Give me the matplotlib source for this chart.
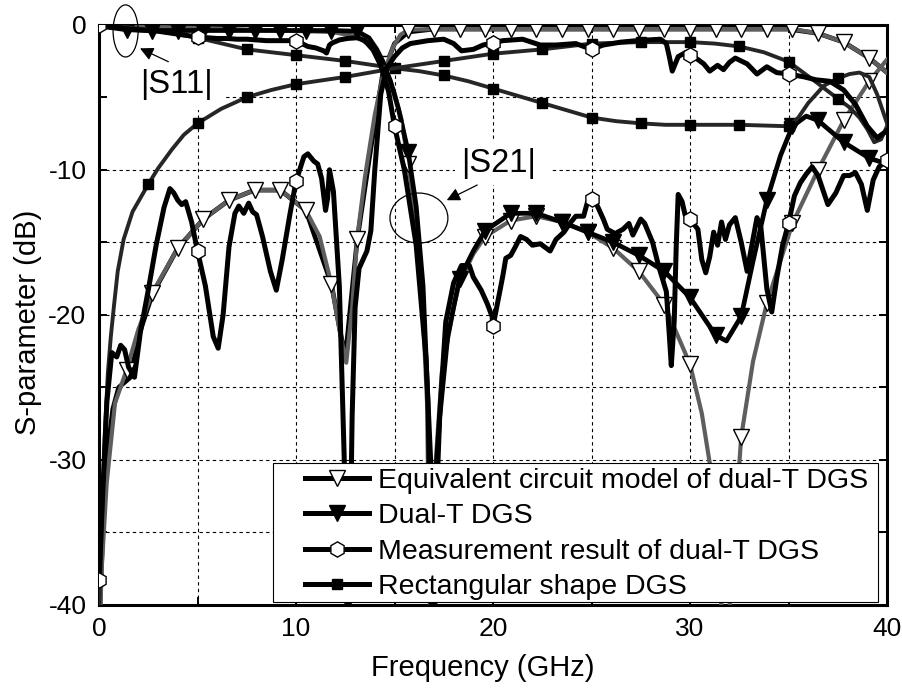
import matplotlib
matplotlib.use("Agg")
import matplotlib.pyplot as plt
from matplotlib.lines import Line2D
from matplotlib.patches import Ellipse, Rectangle

plt.rcParams["font.family"] = ["Liberation Sans", "DejaVu Sans"]
plt.rcParams["axes.unicode_minus"] = False

# ---- equivalent circuit model (grey, open triangles) ----
EQ11_F = [0.1, 1.4, 2.7, 4.0, 5.3, 6.6, 7.9, 9.2, 10.5, 11.8, 13.1, 13.6, 14.0, 14.4,
          15.0, 15.35, 15.7, 16.1, 16.4, 16.65, 16.85, 17.0, 17.4, 18.0, 18.3, 19.0,
          19.6, 20.9, 22.2, 23.5, 24.8, 26.1, 27.4, 28.7, 30.0, 30.6, 31.0, 31.5, 31.8,
          32.1, 32.6, 33.2, 33.9, 35.2, 36.5, 37.8, 39.1, 40.0]
EQ11_DB = [-0.05, -0.1, -0.15, -0.2, -0.25, -0.3, -0.35, -0.4, -0.45, -0.5, -0.8, -1.3,
           -1.9, -2.7, -4.7, -6.5, -9.6, -13.5, -18.5, -26, -45, -32, -24, -19.5, -17.8,
           -15.8, -14.6, -13.5, -13.2, -13.6, -14.3, -15.4, -17.0, -19.3, -23.4, -26.8,
           -30.2, -38, -45, -38, -28.4, -23.2, -19.2, -13.7, -10.0, -6.6, -3.9, -2.4]
EQ11_MK = [14.4, 15.7, 19.6, 20.9, 22.2, 23.5, 24.8, 26.1, 27.4, 28.7, 30.0, 32.6,
           33.9, 35.2, 36.5, 37.8, 39.1]

EQ21_F = [0.05, 0.14, 0.39, 0.81, 1.4, 2.0, 2.7, 4.0, 5.3, 6.6, 7.9, 9.2, 10.5, 11.2,
          11.8, 12.2, 12.55, 12.85, 13.1, 13.5, 14.0, 14.4, 14.9, 15.3, 15.7, 17.0,
          18.3, 19.6, 20.9, 22.2, 23.5, 24.8, 26.1, 27.4, 28.7, 30.0, 31.3, 32.6, 33.9,
          35.2, 36.5, 37.8, 39.1, 40.0]
EQ21_DB = [-41, -37.4, -31.6, -26.1, -23.8, -21.0, -18.5, -15.4, -13.4, -12.1, -11.4,
           -11.4, -12.8, -14.6, -17.9, -21.0, -23.3, -19.5, -14.8, -10.5, -6.2, -3.6,
           -1.6, -0.7, -0.35, -0.3, -0.3, -0.3, -0.3, -0.3, -0.3, -0.3, -0.3, -0.3,
           -0.3, -0.3, -0.3, -0.3, -0.3, -0.3, -0.6, -1.2, -2.3, -3.3]
EQ21_MK = [1.4, 2.7, 4.0, 5.3, 6.6, 7.9, 9.2, 10.5, 11.8, 13.1, 15.7, 17.0, 18.3, 19.6,
           20.9, 22.2, 23.5, 24.8, 26.1, 27.4, 28.7, 30.0, 31.3, 32.6, 33.9, 35.2, 36.5,
           37.8, 39.1]

# ---- dual-T DGS (black, filled triangles) ----
DT11_F = [0.1, 1.4, 2.7, 4.0, 5.3, 6.6, 7.9, 9.2, 10.5, 11.8, 13.1, 13.7, 14.1, 14.4,
          14.8, 15.2, 15.7, 16.1, 16.45, 16.7, 16.9, 17.0, 17.3, 17.7, 18.3, 19.0, 19.6,
          20.9, 22.2, 23.5, 24.8, 26.1, 27.4, 28.7, 30.0, 31.3, 31.85, 32.6, 33.2, 33.9,
          34.6, 35.2, 35.9, 36.5, 37.8, 39.1, 40.0]
DT11_DB = [-0.1, -0.35, -0.4, -0.4, -0.4, -0.4, -0.4, -0.4, -0.4, -0.4, -0.45, -0.9,
           -1.7, -2.5, -3.9, -5.8, -8.8, -12.5, -18, -26, -45, -38, -27, -21.5, -17.5,
           -15.6, -14.2, -13.0, -13.0, -13.6, -14.3, -15.0, -15.9, -17.0, -18.8, -21.4,
           -21.8, -20.1, -16.3, -12.1, -9.0, -7.0, -6.3, -6.6, -8.1, -9.2, -9.6]
DT11_MK = [1.4, 2.7, 4.0, 5.3, 6.6, 7.9, 9.2, 10.5, 11.8, 13.1, 15.7, 18.3, 19.6, 20.9,
           22.2, 23.5, 24.8, 26.1, 27.4, 28.7, 30.0, 31.3, 32.6, 33.9, 35.2, 36.5, 37.8,
           39.1]

DT21_F = [0.05, 0.3, 0.7, 1.0, 1.6, 2.0, 2.7, 4.0, 5.3, 6.6, 7.9, 9.2, 10.5, 11.8,
          12.5, 13.1, 13.8, 14.4, 15.0, 15.7, 17.0, 25.0, 35.0, 36.5, 37.8, 39.1, 40.0]
DT21_DB = [-40, -31, -26.5, -25.0, -24.3, -21.5, -18.6, -15.4, -13.4, -12.1, -11.4,
           -11.4, -12.8, -17.9, -23, -14.9, -8.5, -3.4, -1.3, -0.5, -0.3, -0.3, -0.3,
           -0.6, -1.2, -2.3, -3.3]

# ---- measurement of dual-T DGS (black, hexagons) ----
MS11_F = [0, 0.5, 1, 1.5, 2, 2.5, 3, 3.5, 4, 4.5, 5, 5.5, 6, 6.5, 7, 7.5, 8, 8.5, 9,
          9.5, 10, 10.3, 10.6, 11.0, 11.4, 11.55, 11.7, 11.85, 12.2, 12.6, 13.1, 13.5,
          13.9, 14.3, 14.7, 15.0, 15.5, 16.1, 16.6, 16.85, 17.0, 17.15, 17.6, 18.0,
          18.4, 18.8, 19.0, 19.4, 19.7, 19.95, 20.0, 20.3, 20.5, 20.65, 20.9, 21.1,
          21.4, 21.7, 22.0, 22.4, 22.9, 23.2, 23.6, 23.9, 24.2, 24.6, 24.8, 25.0, 25.3,
          25.6, 25.8, 26.2, 26.6, 26.9, 27.1, 27.5, 27.7, 28.1, 28.4, 28.8, 28.95,
          29.05, 29.2, 29.3, 29.4, 29.6, 29.75, 30.0, 30.4, 30.6, 30.8, 31.0, 31.2,
          31.4, 31.6, 31.8, 32.0, 32.3, 32.6, 32.9, 33.1, 33.4, 33.6, 33.9, 34.15,
          34.4, 34.7, 35.0, 35.3, 35.6, 35.9, 36.2, 36.5, 37.0, 37.4, 37.8, 38.1, 38.4,
          38.7, 39.0, 39.3, 39.6, 40.0]
MS11_DB = [-0.05, -0.15, -0.2, -0.3, -0.35, -0.4, -0.45, -0.55, -0.65, -0.75, -0.85,
           -0.9, -0.95, -0.95, -1.0, -1.0, -1.05, -1.1, -1.1, -1.1, -1.1, -1.3, -1.5,
           -1.6, -1.8, -1.95, -1.4, -1.25, -1.05, -0.95, -0.9, -1.1, -1.7, -2.8, -4.6,
           -7.0, -10.0, -15.2, -23, -30.5, -45, -30, -20.5, -17.8, -16.6, -16.6, -17.4,
           -18.3, -19.2, -20.1, -20.8, -18.7, -17.3, -16.1, -15.9, -15.4, -14.6, -14.8,
           -15.2, -15.1, -15.6, -14.8, -14.3, -13.7, -13.2, -13.2, -12.2, -12.0, -12.5,
           -13.4, -14.1, -14.4, -14.1, -13.7, -14.5, -13.4, -13.7, -15.0, -16.6, -18.4,
           -21.4, -23.5, -20.4, -15.3, -11.7, -12.2, -13.1, -13.4, -14.1, -16.2, -17.1,
           -16.0, -14.3, -15.2, -13.6, -14.8, -13.8, -13.3, -15.0, -17.0, -15.5, -13.3,
           -14.0, -18.2, -19.8, -17.5, -15.2, -13.7, -11.8, -10.9, -10.3, -9.8, -10.4,
           -12.4, -11.6, -10.4, -10.4, -10.2, -11.0, -12.8, -10.7, -9.8, -9.3]
MS11_MK = [0, 5, 10, 15, 20, 25, 30, 35, 40]

MS21_F = [0, 0.2, 0.4, 0.65, 0.9, 1.1, 1.3, 1.5, 1.8, 2.1, 2.5, 2.9, 3.3, 3.6, 3.8,
          4.0, 4.2, 4.4, 4.7, 5.0, 5.4, 5.8, 6.05, 6.3, 6.6, 6.9, 7.1, 7.35, 7.6, 7.8,
          8.0, 8.3, 8.7, 9.0, 9.3, 9.7, 10.0, 10.4, 10.6, 10.9, 11.1, 11.3, 11.5, 11.6,
          11.7, 11.9, 12.2, 12.45, 12.65, 12.85, 13.0, 13.2, 13.6, 13.8, 14.0, 14.3,
          14.6, 15.0, 15.4, 15.8, 16.7, 17.5, 18.0, 18.4, 19.0, 19.5, 20.0, 20.5, 21.5,
          22.4, 23.2, 24.2, 25.0, 25.6, 26.5, 27.3, 28.5, 28.8, 28.95, 29.1, 29.4, 29.8,
          30.0, 30.4, 30.7, 31.0, 31.4, 31.7, 32.0, 32.3, 32.9, 33.4, 33.9, 34.4, 35.0,
          35.8, 36.4, 37.1, 37.8, 38.4, 39.0, 39.5, 40.0]
MS21_DB = [-38.3, -32, -26, -22.6, -22.9, -22.1, -22.4, -23.6, -24.3, -21.2, -18.3,
           -15.2, -12.6, -11.3, -11.6, -12.1, -12.4, -12.2, -13.6, -15.6, -18.0, -21.5,
           -22.3, -20.0, -15.3, -13.0, -12.5, -13.0, -12.3, -12.9, -13.1, -14.6, -17.0,
           -18.3, -16.2, -13.0, -10.8, -9.1, -8.9, -9.4, -9.6, -10.6, -12.8, -12.0,
           -10.0, -11.5, -18.0, -30, -45, -27, -19.5, -16.8, -15.6, -14.2, -10.0, -4.8,
           -3.0, -2.2, -1.6, -1.3, -1.1, -1.0, -1.3, -1.8, -1.7, -1.4, -1.25, -1.1, -1.0,
           -1.4, -1.4, -1.3, -1.7, -1.4, -1.2, -1.1, -1.0, -1.3, -2.2, -3.2, -2.2, -1.9,
           -2.1, -2.4, -2.7, -3.2, -2.8, -3.1, -2.6, -2.3, -2.7, -3.4, -2.9, -3.3, -3.4,
           -3.6, -3.8, -3.9, -4.5, -5.5, -7.0, -7.8, -7.3]
MS21_MK = [0, 5, 10, 20, 25, 30, 35]

# ---- rectangular shape DGS (dark, squares) ----
RC11_F = [0, 1.25, 2.5, 3.75, 5, 6.25, 7.5, 8.75, 10, 11.25, 12.5, 13.75, 15, 16.25,
          17.5, 18.75, 20, 21.25, 22.5, 23.75, 25, 26.25, 27.5, 28.75, 30, 31.25, 32.5,
          33.75, 35, 35.5, 36.0, 36.8, 37.5, 38.1, 38.6, 39.1, 39.5, 39.8, 40.0]
RC11_DB = [-0.05, -0.15, -0.35, -0.6, -0.9, -1.3, -1.7, -1.9, -2.1, -2.3, -2.5, -2.75,
           -3.0, -3.2, -3.5, -3.9, -4.4, -4.9, -5.4, -5.9, -6.4, -6.65, -6.8, -6.9, -6.9,
           -6.9, -6.9, -6.95, -7.0, -6.4, -5.4, -4.2, -3.7, -3.4, -3.3, -3.6, -4.8, -6.0,
           -6.8]
RC11_MK = [5, 7.5, 10, 12.5, 15, 17.5, 20, 22.5, 25, 27.5, 30, 32.5, 35, 37.5]

RC21_F = [0, 0.15, 0.3, 0.45, 0.6, 0.75, 0.95, 1.25, 1.7, 2.5, 3.0, 3.7, 4.3, 5.0, 6.2,
          7.5, 8.75, 10, 11.25, 12.5, 13.75, 15, 16.25, 17.5, 18.75, 20, 21.25, 22.5,
          23.75, 25, 26.25, 27.5, 28.75, 30, 31.25, 32.5, 33.75, 35, 36.25, 37.5, 38.1,
          38.6, 39.0, 39.35, 39.7, 40.0]
RC21_DB = [-41, -34, -28, -24, -21.5, -19.5, -17, -14.8, -12.9, -11.0, -9.9, -8.6, -7.6,
           -6.8, -5.8, -5.0, -4.5, -4.1, -3.85, -3.6, -3.3, -3.0, -2.75, -2.5, -2.25,
           -2.0, -1.85, -1.7, -1.5, -1.3, -1.25, -1.2, -1.2, -1.2, -1.3, -1.5, -1.9,
           -2.55, -3.8, -5.1, -5.7, -6.4, -7.2, -8.1, -7.9, -7.0]
RC21_MK = [2.5, 5, 7.5, 10, 12.5, 17.5, 20, 22.5, 25, 27.5, 30, 32.5, 35, 37.5]

LEGEND_LABELS = ["Equivalent circuit model of dual-T DGS", "Dual-T DGS",
                 "Measurement result of dual-T DGS", "Rectangular shape DGS"]

GREY = "#5e5e5e"
DARK = "#262626"


def mark_idx(freqs, marks):
    return [i for i, f in enumerate(freqs) if any(abs(f - m) < 1e-6 for m in marks)]


fig = plt.figure(figsize=(9.03, 6.93), dpi=100)
ax = fig.add_axes([99 / 903, 1 - 605 / 693, 788 / 903, 580.3 / 693])

ax.plot(DT21_F, DT21_DB, color="black", lw=3.4, zorder=2)
ax.plot(EQ11_F, EQ11_DB, color=GREY, lw=3.0, marker="v", ms=11.5, mfc="white",
        mec="black", mew=1.0, markevery=mark_idx(EQ11_F, EQ11_MK), zorder=3)
ax.plot(EQ21_F, EQ21_DB, color=GREY, lw=3.0, marker="v", ms=11.5, mfc="white",
        mec="black", mew=1.0, markevery=mark_idx(EQ21_F, EQ21_MK), zorder=3)
ax.plot(DT11_F, DT11_DB, color="black", lw=3.4, marker="v", ms=11, mfc="black",
        mec="black", markevery=mark_idx(DT11_F, DT11_MK), zorder=4)
ax.plot(RC11_F, RC11_DB, color=DARK, lw=2.8, marker="s", ms=7.5, mfc="black",
        mec="black", markevery=mark_idx(RC11_F, RC11_MK), zorder=5)
ax.plot(RC21_F, RC21_DB, color=DARK, lw=2.8, marker="s", ms=7.5, mfc="black",
        mec="black", markevery=mark_idx(RC21_F, RC21_MK), zorder=5)
ax.plot(MS11_F, MS11_DB, color="black", lw=3.6, marker="h", ms=11, mfc="white",
        mec="black", mew=1.0, markevery=mark_idx(MS11_F, MS11_MK), zorder=6)
ax.plot(MS21_F, MS21_DB, color="black", lw=3.6, marker="h", ms=11, mfc="white",
        mec="black", mew=1.0, markevery=mark_idx(MS21_F, MS21_MK), zorder=6)

ax.set_xlim(0, 40)
ax.set_ylim(-40, 0)
ax.set_xticks([0, 10, 20, 30, 40])
ax.set_xticks([5, 15, 25, 35], minor=True)
ax.set_yticks([-40, -30, -20, -10, 0])
ax.set_yticks([-35, -25, -15, -5], minor=True)
ax.tick_params(which="both", direction="in", top=True, right=True, length=6,
               width=1.4, labelsize=19, pad=9)
ax.grid(which="both", color="black", lw=0.8, ls=(0, (3, 3)))
ax.set_axisbelow(True)
for sp in ax.spines.values():
    sp.set_linewidth(2.2)

ax.set_xlabel("Frequency (GHz)", fontsize=21, va="center")
ax.xaxis.set_label_coords((483 - 99) / 788, (605 - 668) / 580.3)
ax.set_ylabel("S-parameter (dB)", fontsize=21, va="center")
ax.yaxis.set_label_coords((28 - 99) / 788, (605 - 322) / 580.3)

# annotations
ax.add_patch(Rectangle((0.41, -5.88), 5.88, 4.96, facecolor="white", edgecolor="none",
                       zorder=2.5))
ax.add_patch(Rectangle((18.07, -11.05), 4.83, 3.1, facecolor="white", edgecolor="none",
                       zorder=2.5))
ax.text(3.91, -4.09, "|S11|", fontsize=23.5, ha="center", va="center", zorder=2.6)
ax.text(20.3, -9.55, "|S21|", fontsize=23.5, ha="center", va="center", zorder=2.6)
ax.add_patch(Ellipse((1.35, -0.43), 1.27, 3.59, fill=False, ec="black", lw=0.9,
                     clip_on=False, zorder=10))
ax.add_patch(Ellipse((16.24, -13.33), 2.94, 3.45, fill=False, ec="black", lw=0.9,
                     zorder=10))
arrow = dict(arrowstyle="-|>", color="black", lw=0.9, mutation_scale=20,
             shrinkA=0, shrinkB=0)
ax.annotate("", xy=(2.08, -1.63), xytext=(3.52, -2.55), arrowprops=arrow, zorder=10)
ax.annotate("", xy=(17.65, -12.1), xytext=(19.2, -11.05), arrowprops=arrow, zorder=10)

# legend
ax.add_patch(Rectangle((0.2208, 0.005), 0.9886 - 0.2208, 0.2447 - 0.005,
                       transform=ax.transAxes, facecolor="white", edgecolor="black",
                       lw=0.8, zorder=19))
handles = [
    Line2D([], [], color="black", lw=3.6, marker="v", ms=12, mfc="white", mec="black"),
    Line2D([], [], color="black", lw=3.6, marker="v", ms=12, mfc="black", mec="black"),
    Line2D([], [], color="black", lw=3.6, marker="h", ms=11, mfc="white", mec="black"),
    Line2D([], [], color="black", lw=3.6, marker="s", ms=7, mfc="black", mec="black"),
]
leg = ax.legend(handles, LEGEND_LABELS, loc="upper left",
                bbox_to_anchor=((305 - 99) / 788, (605 - 468) / 580.3),
                frameon=False, fontsize=20.5, handlelength=2.25, handletextpad=0.32,
                labelspacing=0.33, borderpad=0, borderaxespad=0)
leg.set_zorder(20)

fig.savefig("out.png", dpi=100)
